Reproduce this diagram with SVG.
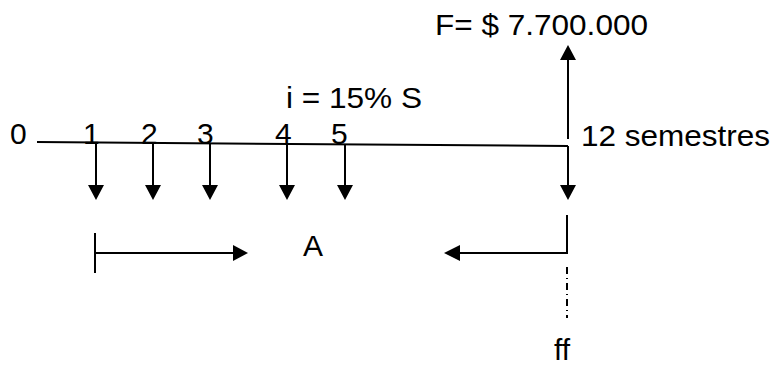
<svg xmlns="http://www.w3.org/2000/svg" width="775" height="367" viewBox="0 0 775 367">
<style>
.t{font-family:"Liberation Sans",Arial,sans-serif;font-size:30px;fill:#000}
.ln{stroke:#000;stroke-width:2;fill:none}
.hd{fill:#000}
</style>
<rect width="775" height="367" fill="#fff"/>
<g id="labels">
<text class="t" x="435" y="35" textLength="213" lengthAdjust="spacingAndGlyphs">F= $ 7.700.000</text>
<text class="t" x="286" y="108" textLength="136" lengthAdjust="spacingAndGlyphs">i = 15% S</text>
<text class="t" x="581" y="146" textLength="189" lengthAdjust="spacingAndGlyphs">12 semestres</text>
<text class="t" x="10" y="144">0</text>
<text class="t" x="83" y="144">1</text>
<text class="t" x="141" y="144">2</text>
<text class="t" x="197" y="144">3</text>
<text class="t" x="275" y="144">4</text>
<text class="t" x="331" y="144">5</text>
<text class="t" x="303" y="256">A</text>
<text class="t" x="554" y="360">ff</text>
</g>
<g id="connectors">
<line class="ln" x1="37" y1="142" x2="568" y2="146"/>
<line class="ln" x1="96" y1="142.5" x2="96" y2="187"/><polygon class="hd" points="88,185 104,185 96,200"/>
<line class="ln" x1="153" y1="143" x2="153" y2="187"/><polygon class="hd" points="145,185 161,185 153,200"/>
<line class="ln" x1="210" y1="143.5" x2="210" y2="187"/><polygon class="hd" points="202,185 218,185 210,200"/>
<line class="ln" x1="287" y1="144" x2="287" y2="187"/><polygon class="hd" points="279,185 295,185 287,200"/>
<line class="ln" x1="345" y1="144.5" x2="345" y2="187"/><polygon class="hd" points="337,185 353,185 345,200"/>
<line class="ln" x1="568" y1="146" x2="568" y2="187"/><polygon class="hd" points="560,185 576,185 568,200"/>
<line class="ln" x1="568" y1="139" x2="568" y2="58"/><polygon class="hd" points="560,60 576,60 568,45"/>
<line class="ln" x1="95" y1="233" x2="95" y2="273"/>
<line class="ln" x1="95" y1="253" x2="235" y2="253"/><polygon class="hd" points="233,245 233,261 248,253"/>
<line class="ln" x1="567" y1="215" x2="567" y2="254"/>
<line class="ln" x1="567" y1="253" x2="458" y2="253"/><polygon class="hd" points="460,245 460,261 444,253"/>
<line class="ln" x1="567" y1="267" x2="567" y2="318" stroke-dasharray="7,4,1,4"/>
</g>
</svg>
